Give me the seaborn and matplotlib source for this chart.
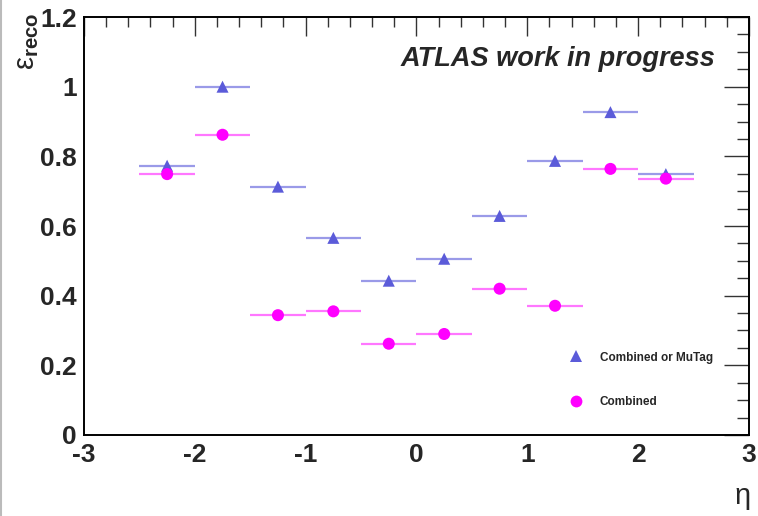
import matplotlib
matplotlib.use("Agg")
import matplotlib.pyplot as plt
from matplotlib.lines import Line2D
from matplotlib.ticker import MultipleLocator
import numpy as np
import pandas as pd
import seaborn as sns

# eta bin centres and reconstruction efficiencies
eta_centers = [-2.25, -1.75, -1.25, -0.75, -0.25, 0.25, 0.75, 1.25, 1.75, 2.25]
eff_combined_or_mutag = [0.773, 1.000, 0.713, 0.566, 0.443, 0.506, 0.629, 0.787, 0.927, 0.749]
eff_combined = [0.749, 0.862, 0.344, 0.355, 0.262, 0.290, 0.420, 0.371, 0.764, 0.736]
series_names = ["Combined or MuTag", "Combined"]
bin_half_width = 0.25

df = pd.DataFrame({
    "eta": eta_centers * 2,
    "eff": eff_combined_or_mutag + eff_combined,
    "series": [series_names[0]] * len(eta_centers) + [series_names[1]] * len(eta_centers),
})

sns.set_theme(style="white")
plt.rcParams["font.family"] = ["Liberation Sans", "DejaVu Sans"]
plt.rcParams["mathtext.fontset"] = "custom"
plt.rcParams["mathtext.rm"] = "Liberation Sans"
plt.rcParams["mathtext.bf"] = "Liberation Sans:bold"
plt.rcParams["mathtext.it"] = "Liberation Sans"

colors = {series_names[0]: "#5b5bd9", series_names[1]: "#ff00ff"}
bar_colors = {series_names[0]: "#9a9ae8", series_names[1]: "#ff77ff"}
markers = {series_names[0]: "^", series_names[1]: "o"}

fig = plt.figure(figsize=(7.58, 5.16), dpi=100)
ax = fig.add_axes([0.1108, 0.157, 0.8773, 0.810])

# horizontal bars showing each eta bin
for name in series_names:
    sub = df[df["series"] == name]
    ax.hlines(sub["eff"], sub["eta"] - bin_half_width, sub["eta"] + bin_half_width,
              colors=bar_colors[name], linewidth=1.6, zorder=2)

sns.scatterplot(data=df, x="eta", y="eff", hue="series", style="series",
                palette=colors, markers=markers, s=75, edgecolor="none",
                legend=False, ax=ax, zorder=3)

ax.set_xlim(-3, 3)
ax.set_ylim(0, 1.2)
ax.set_xlabel("")
ax.set_ylabel("")
ax.xaxis.set_minor_locator(MultipleLocator(0.2))
ax.yaxis.set_minor_locator(MultipleLocator(0.05))
ax.set_xticks(np.arange(-3, 3.1, 1))
ax.set_xticklabels(["-3", "-2", "-1", "0", "1", "2", "3"])
ax.set_yticks(np.arange(0, 1.21, 0.2))
ax.set_yticklabels(["0", "0.2", "0.4", "0.6", "0.8", "1", "1.2"])

ax.tick_params(axis="both", which="both", direction="in", top=True, right=True,
               color="#333333", width=1.0)
ax.tick_params(axis="x", which="major", length=14, labelsize=19, pad=6)
ax.tick_params(axis="x", which="minor", length=7)
ax.tick_params(axis="y", which="major", length=18, labelsize=19, pad=5)
ax.tick_params(axis="y", which="minor", length=9)
for lab in ax.get_xticklabels() + ax.get_yticklabels():
    lab.set_fontweight("bold")
for sp in ax.spines.values():
    sp.set_color("black")
    sp.set_linewidth(1.4)

ax.text(0.950, 0.900, "ATLAS work in progress", transform=ax.transAxes,
        ha="right", va="center", fontsize=19.5, fontweight="bold", style="italic")

handles = [
    Line2D([], [], linestyle="none", marker=markers[n], color=colors[n],
           markersize=8.5, markeredgewidth=0) for n in series_names
]
leg = ax.legend(handles, series_names, loc="upper left",
                bbox_to_anchor=(0.715, 0.225), frameon=False,
                prop={"size": 8.5, "weight": "bold"}, labelspacing=2.75,
                handletextpad=1.5, handlelength=1.0)

fig.text(0.035, 0.975, r"$\mathrm{ε}_{\mathbf{reco}}$", rotation=90, ha="center",
         va="top", fontsize=21)
fig.text(0.979, 0.035, r"$\mathrm{η}$", ha="center", va="center", fontsize=21)

# thin canvas edge on the left
fig.add_artist(Line2D([0.001, 0.001], [0, 1], transform=fig.transFigure,
                      color="#bbbbbb", linewidth=1.5))

fig.savefig("out.png", dpi=100)
